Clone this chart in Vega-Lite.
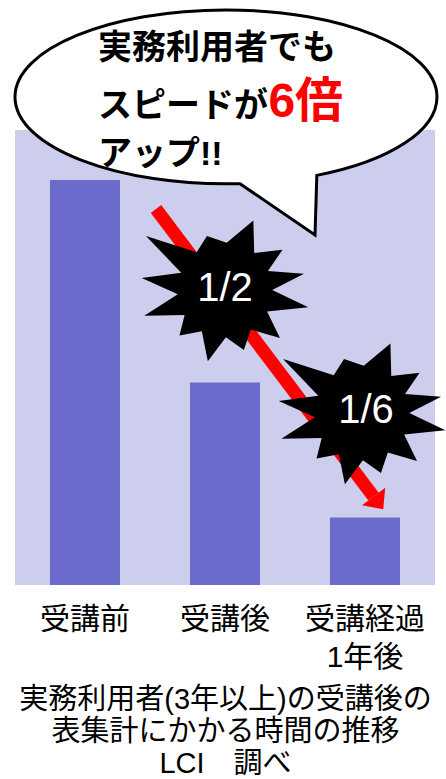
{
  "$schema": "https://vega.github.io/schema/vega-lite/v6.json",
  "width": 420,
  "height": 455,
  "autosize": "none",
  "padding": {"left": 15, "top": 130, "right": 11, "bottom": 194},
  "config": {
    "view": {"fill": "#cdcdee", "stroke": null},
    "font": "Liberation Sans, Noto Sans CJK JP"
  },
  "datasets": {
    "bars": [
      {"stage": "受講前", "time": 6},
      {"stage": "受講後", "time": 3},
      {"stage": "受講経過 1年後", "time": 1}
    ],
    "arrow": [{"x": 1.007, "y": 5.57, "x2": 2.561, "y2": 1.308}],
    "head": [{"x": 2.596, "y": 1.215}],
    "stars": [
      {"x": 1.5, "y": 4.37, "label": "1/2"},
      {"x": 2.479, "y": 2.548, "label": "1/6"}
    ],
    "starText": [
      {"x": 1.5, "y": 4.381, "label": "1/2"},
      {"x": 2.507, "y": 2.573, "label": "1/6"}
    ],
    "bubble": [{"x": 1.507, "y": 7.23}],
    "callout": [
      {"x": 0.593, "y": 7.945, "text": "実務利用者でも"},
      {"x": 0.593, "y": 7.086, "text": "スピードが"},
      {"x": 0.593, "y": 6.375, "text": "アップ!!"}
    ],
    "emph": [{"x": 1.81, "y": 7.141, "text": "6倍"}]
  },
  "resolve": {"scale": {"x": "independent"}},
  "layer": [
    {
      "data": {"name": "bars"},
      "mark": {"type": "bar", "color": "#6b6bcc"},
      "encoding": {
        "x": {
          "field": "stage", "type": "nominal", "sort": null,
          "scale": {"paddingInner": 0.5, "paddingOuter": 0.25},
          "axis": {
            "domain": false, "ticks": false, "tickSize": 0,
            "labelAngle": 0, "labelFontSize": 30, "labelColor": "#000000",
            "labelPadding": 19, "labelLineHeight": 38,
            "labelExpr": "split(datum.label, ' ')",
            "title": ["実務利用者(3年以上)の受講後の", "表集計にかかる時間の推移", "LCI　調べ"],
            "titleFontSize": 29, "titleFontWeight": "normal", "titleColor": "#000000",
            "titleLineHeight": 32, "titlePadding": 13
          }
        },
        "y": {"field": "time", "type": "quantitative", "scale": {"domain": [0, 6.74], "nice": false}, "axis": null}
      }
    },
    {
      "data": {"name": "arrow"},
      "mark": {"type": "rule", "color": "#ff0000", "strokeWidth": 13, "strokeCap": "butt"},
      "encoding": {
        "x": {"field": "x", "type": "quantitative", "scale": {"domain": [0, 3], "nice": false, "zero": false}, "axis": null},
        "y": {"field": "y", "type": "quantitative", "scale": {"domain": [0, 6.74], "nice": false}, "axis": null},
        "x2": {"field": "x2"},
        "y2": {"field": "y2"}
      }
    },
    {
      "data": {"name": "head"},
      "mark": {"type": "point", "filled": true, "color": "#ff0000", "opacity": 1, "shape": "M-1,-0.55 L1,-0.55 L0,0.55 Z", "size": 841, "angle": -37.1},
      "encoding": {
        "x": {"field": "x", "type": "quantitative", "scale": {"domain": [0, 3], "nice": false, "zero": false}, "axis": null},
        "y": {"field": "y", "type": "quantitative", "scale": {"domain": [0, 6.74], "nice": false}, "axis": null}
      }
    },
    {
      "data": {"name": "stars"},
      "mark": {"type": "point", "filled": true, "color": "#000000", "opacity": 1, "size": 29500,
        "shape": "M0.33,-0.81 L0.34,-0.43 L0.67,-0.47 L0.50,-0.22 L0.92,-0.19 L0.55,0 L0.97,0.2 L0.49,0.25 L0.64,0.56 L0.30,0.46 L0.22,0.7 L0.01,0.55 L-0.2,0.83 L-0.27,0.48 L-0.53,0.53 L-0.47,0.29 L-0.94,0.3 L-0.55,0.05 L-0.97,-0.14 L-0.51,-0.2 L-0.92,-0.63 L-0.33,-0.44 L-0.21,-0.63 L0.02,-0.55 Z"},
      "encoding": {
        "x": {"field": "x", "type": "quantitative", "scale": {"domain": [0, 3], "nice": false, "zero": false}, "axis": null},
        "y": {"field": "y", "type": "quantitative", "scale": {"domain": [0, 6.74], "nice": false}, "axis": null}
      }
    },
    {
      "data": {"name": "starText"},
      "mark": {"type": "text", "color": "#ffffff", "fontSize": 40, "align": "center", "baseline": "middle", "font": "Liberation Sans"},
      "encoding": {
        "x": {"field": "x", "type": "quantitative", "scale": {"domain": [0, 3], "nice": false, "zero": false}, "axis": null},
        "y": {"field": "y", "type": "quantitative", "scale": {"domain": [0, 6.74], "nice": false}, "axis": null},
        "text": {"field": "label"}
      }
    },
    {
      "data": {"name": "bubble"},
      "mark": {"type": "point", "filled": true, "fill": "#ffffff", "stroke": "#000000", "strokeWidth": 3, "opacity": 1, "fillOpacity": 1, "strokeOpacity": 1, "size": 178084,
        "shape": "M0.4305,0.3719 C0.7785,0.3035 1,0.1588 1,0 C1,-0.2275 0.5523,-0.412 0,-0.412 C-0.5523,-0.412 -1,-0.2275 -1,0 C-1,0.2383 -0.5107,0.4269 0.0663,0.4111 L0.422,0.654 Z"},
      "encoding": {
        "x": {"field": "x", "type": "quantitative", "scale": {"domain": [0, 3], "nice": false, "zero": false}, "axis": null},
        "y": {"field": "y", "type": "quantitative", "scale": {"domain": [0, 6.74], "nice": false}, "axis": null}
      }
    },
    {
      "data": {"name": "callout"},
      "mark": {"type": "text", "color": "#000000", "fontSize": 34, "fontWeight": "bold", "align": "left", "baseline": "middle"},
      "encoding": {
        "x": {"field": "x", "type": "quantitative", "scale": {"domain": [0, 3], "nice": false, "zero": false}, "axis": null},
        "y": {"field": "y", "type": "quantitative", "scale": {"domain": [0, 6.74], "nice": false}, "axis": null},
        "text": {"field": "text"}
      }
    },
    {
      "data": {"name": "emph"},
      "mark": {"type": "text", "color": "#ff0000", "fontSize": 48, "fontWeight": "bold", "align": "left", "baseline": "middle"},
      "encoding": {
        "x": {"field": "x", "type": "quantitative", "scale": {"domain": [0, 3], "nice": false, "zero": false}, "axis": null},
        "y": {"field": "y", "type": "quantitative", "scale": {"domain": [0, 6.74], "nice": false}, "axis": null},
        "text": {"field": "text"}
      }
    }
  ]
}
